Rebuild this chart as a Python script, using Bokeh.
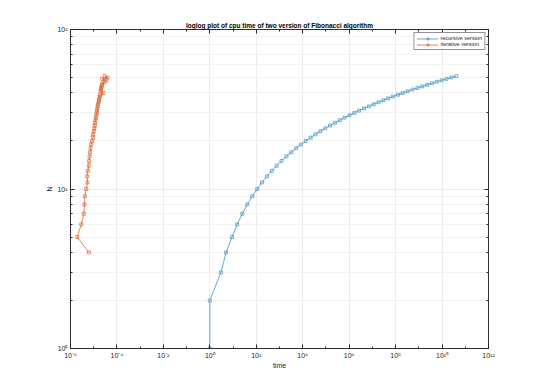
from bokeh.plotting import figure
from bokeh.models import Range1d, FixedTicker, CustomJSTickFormatter, LogAxis, Legend, LegendItem
from bokeh.embed import file_html
from bokeh.resources import INLINE

# ---- data ----
n_recursive = [1, 2, 3, 4, 5, 6, 7, 8, 9, 10, 11, 12, 13, 14, 15, 16, 17, 18, 19, 20,
               21, 22, 23, 24, 25, 26, 27, 28, 29, 30, 31, 32, 33, 34, 35, 36, 37, 38, 39, 40,
               41, 42, 43, 44, 45, 46, 47, 48, 49, 50, 51]
time_recursive = [1, 1, 3, 5, 9, 15, 25, 41, 67, 109, 177, 287, 465, 753, 1219, 1973, 3193,
                  5167, 8361, 13529, 21891, 35421, 57313, 92735, 150049, 242785, 392835,
                  635621, 1028457, 1664079, 2692537, 4356617, 7049155, 11405773, 18454929,
                  29860703, 48315633, 78176337, 126491971, 204668309, 331160281, 535828591,
                  866988873, 1402817465, 2269806339, 3672623805, 5942430145, 9615053951,
                  15557484097, 25172538049, 40730022147]

n_iterative = [4, 5, 6, 7, 8, 9, 10, 11, 12, 13, 14, 15, 16, 17, 18, 19, 20, 21, 22, 23,
               24, 25, 26, 27, 28, 29, 30, 31, 32, 33, 34, 35, 36, 37, 38, 39, 40, 41, 42, 43,
               44, 45, 46, 47, 48, 49, 50, 51]
time_iterative = [6.2e-6, 1.95e-6, 2.9e-6, 3.75e-6, 4.0e-6, 4.15e-6, 4.75e-6, 5.4e-6, 5.25e-6,
                  5.6e-6, 6.15e-6, 6.3e-6, 6.6e-6, 6.95e-6, 7.3e-6, 7.8e-6, 8.5e-6, 9.5e-6,
                  9.35e-6, 1.01e-5, 1.065e-5, 1.11e-5, 1.14e-5, 1.2e-5, 1.235e-5, 1.3e-5,
                  1.35e-5, 1.39e-5, 1.435e-5, 1.49e-5, 1.55e-5, 1.62e-5, 1.68e-5, 1.75e-5,
                  1.82e-5, 1.88e-5, 2.66e-5, 1.97e-5, 2.03e-5, 2.11e-5, 2.18e-5, 2.29e-5,
                  2.4e-5, 2.93e-5, 3.58e-5, 2.29e-5, 3.95e-5, 2.93e-5]

x_major = [1e-6, 1e-4, 1e-2, 1e0, 1e2, 1e4, 1e6, 1e8, 1e10, 1e12]
x_minor = [1e-5, 1e-3, 1e-1, 1e1, 1e3, 1e5, 1e7, 1e9, 1e11]
y_major = [1, 10, 100]
y_minor = [2, 3, 4, 5, 6, 7, 8, 9, 20, 30, 40, 50, 60, 70, 80, 90]

FONT = "Liberation Sans"
AX = "#262626"
C_REC = "#2a86b8"
C_IT = "#D95319"

p = figure(width=524, height=376, frame_width=418, frame_height=319,
           x_axis_type="log", y_axis_type="log",
           x_range=Range1d(1e-6, 1e12), y_range=Range1d(1, 100),
           output_backend="svg", toolbar_location=None,
           min_border_left=70, min_border_top=29, min_border_right=10, min_border_bottom=10,
           title="loglog plot of cpu time of two version of Fibonacci algorithm")
p.background_fill_color = "white"
p.border_fill_color = "white"
p.outline_line_color = AX
p.outline_line_width = 0.8

p.title.align = "center"
p.title.text_font = FONT
p.title.text_font_size = "6.5px"
p.title.text_font_style = "bold"
p.title.text_color = "black"
p.title.standoff = 1
p.title.offset = 0

fmt = CustomJSTickFormatter(code="""
const sup = {'-':'\\u207b','0':'\\u2070','1':'\\u00b9','2':'\\u00b2','3':'\\u00b3','4':'\\u2074',
             '5':'\\u2075','6':'\\u2076','7':'\\u2077','8':'\\u2078','9':'\\u2079'};
const e = Math.round(Math.log10(tick)).toString();
let s = '';
for (const ch of e) s += sup[ch];
return '10' + s;
""")

def style_axis(ax, show_labels=True):
    ax.axis_line_color = AX
    ax.axis_line_width = 0.8
    ax.major_tick_in = 4
    ax.major_tick_out = 0
    ax.minor_tick_in = 2
    ax.minor_tick_out = 0
    ax.major_tick_line_color = AX
    ax.minor_tick_line_color = AX
    ax.major_label_text_font = FONT
    ax.major_label_text_font_size = "7px"
    ax.axis_label_text_font = FONT
    ax.axis_label_text_font_size = "7px"
    ax.axis_label_text_font_style = "normal"
    ax.axis_label_text_color = AX
    ax.formatter = fmt
    if show_labels:
        ax.major_label_text_color = AX
        ax.major_label_standoff = 3
    else:
        ax.major_label_text_alpha = 0
        ax.major_label_standoff = 0

xt = FixedTicker(ticks=x_major, minor_ticks=x_minor)
yt = FixedTicker(ticks=y_major, minor_ticks=y_minor)

p.xaxis.ticker = xt
p.yaxis.ticker = yt
style_axis(p.xaxis[0])
style_axis(p.yaxis[0])
p.xaxis.axis_label = "time"
p.yaxis.axis_label = "N"
p.xaxis.axis_label_standoff = 0
p.yaxis.axis_label_standoff = 1
p.yaxis.major_label_orientation = "horizontal"

top_ax = LogAxis(ticker=FixedTicker(ticks=x_major, minor_ticks=x_minor))
right_ax = LogAxis(ticker=FixedTicker(ticks=y_major, minor_ticks=y_minor))
style_axis(top_ax, False)
style_axis(right_ax, False)
p.add_layout(top_ax, "above")
p.add_layout(right_ax, "right")

p.xgrid.ticker = xt
p.ygrid.ticker = yt
p.xgrid.grid_line_color = "#e6e6e6"
p.ygrid.grid_line_color = "#e6e6e6"
p.ygrid.minor_grid_line_color = "#f1f1f1"
p.xgrid.grid_line_width = 0.8
p.ygrid.grid_line_width = 0.8

r1 = p.line(time_recursive, n_recursive, line_color=C_REC, line_width=0.7)
s1 = p.scatter(time_recursive, n_recursive, marker="square", size=3,
               fill_color=None, line_color=C_REC, line_width=0.6)
r2 = p.line(time_iterative, n_iterative, line_color=C_IT, line_width=0.7)
s2 = p.scatter(time_iterative, n_iterative, marker="square", size=3,
               fill_color=None, line_color=C_IT, line_width=0.6)

legend = Legend(items=[LegendItem(label="recursive version", renderers=[r1, s1]),
                       LegendItem(label="iterative version", renderers=[r2, s2])],
                location="top_right")
legend.label_text_font = FONT
legend.label_text_font_size = "5.5px"
legend.label_text_color = AX
legend.label_height = 5
legend.label_standoff = 2
legend.glyph_height = 5
legend.glyph_width = 22
legend.spacing = 0
legend.padding = 2
legend.margin = 3
legend.border_line_color = AX
legend.border_line_width = 0.6
legend.background_fill_alpha = 1
p.add_layout(legend)

open("out.html", "w").write(file_html(p, INLINE))
